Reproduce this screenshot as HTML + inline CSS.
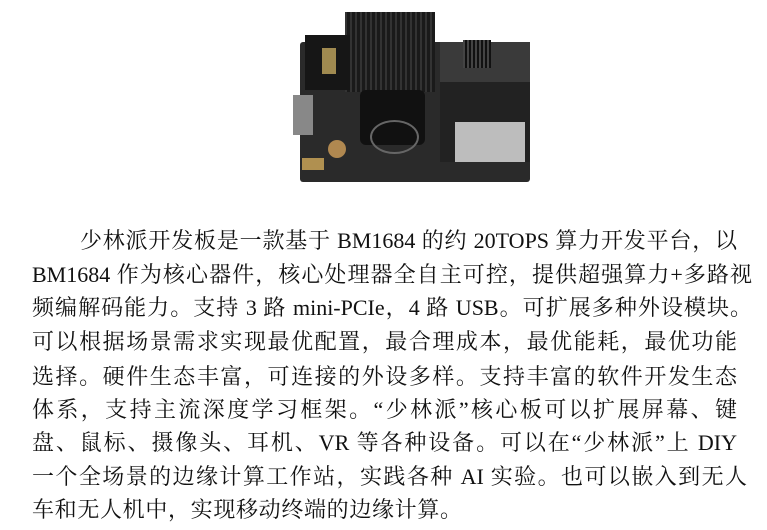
<!DOCTYPE html>
<html><head><meta charset="utf-8">
<style>
html,body{margin:0;padding:0;background:#fff;}
body{width:767px;height:530px;position:relative;overflow:hidden;}
.l{position:absolute;font-family:"Liberation Serif","Noto Serif CJK SC",serif;font-size:22px;color:#111;white-space:nowrap;text-align:justify;text-align-last:justify;line-height:30px;height:30px;}
.b{position:absolute;}
</style></head><body>
<div class="b" style="left:300px;top:42px;width:230px;height:140px;background:#2a2a2a;border-radius:3px;"></div>
<div class="b" style="left:345px;top:12px;width:90px;height:80px;background:#1c1c1c;background-image:repeating-linear-gradient(90deg,#333 0 2px,#1a1a1a 2px 5px);"></div>
<div class="b" style="left:305px;top:35px;width:45px;height:55px;background:#161616;"></div>
<div class="b" style="left:322px;top:48px;width:14px;height:26px;background:#a08a50;"></div>
<div class="b" style="left:440px;top:42px;width:90px;height:40px;background:#3a3a3a;"></div>
<div class="b" style="left:463px;top:40px;width:28px;height:28px;background:#111;background-image:repeating-linear-gradient(90deg,#444 0 2px,#111 2px 4px);"></div>
<div class="b" style="left:440px;top:82px;width:90px;height:80px;background:#222;"></div>
<div class="b" style="left:455px;top:122px;width:70px;height:40px;background:#bdbdbd;"></div>
<div class="b" style="left:360px;top:90px;width:65px;height:55px;background:#111;border-radius:6px;"></div>
<div class="b" style="left:370px;top:120px;width:45px;height:30px;border:2px solid #666;border-radius:50%;"></div>
<div class="b" style="left:293px;top:95px;width:20px;height:40px;background:#888;"></div>
<div class="b" style="left:328px;top:140px;width:18px;height:18px;background:#b08850;border-radius:50%;"></div>
<div class="b" style="left:302px;top:158px;width:22px;height:12px;background:#b09050;"></div>

<div class="l" style="left:80px;top:226px;width:657px;">少林派开发板是一款基于 BM1684 的约 20TOPS 算力开发平台，以</div>
<div class="l" style="left:32px;top:260px;width:720px;">BM1684 作为核心器件，核心处理器全自主可控，提供超强算力+多路视</div>
<div class="l" style="left:32px;top:293px;width:720px;">频编解码能力。支持 3 路 mini-PCIe，4 路 USB。可扩展多种外设模块。</div>
<div class="l" style="left:32px;top:327px;width:705px;">可以根据场景需求实现最优配置，最合理成本，最优能耗，最优功能</div>
<div class="l" style="left:32px;top:362px;width:705px;">选择。硬件生态丰富，可连接的外设多样。支持丰富的软件开发生态</div>
<div class="l" style="left:32px;top:395px;width:705px;">体系，支持主流深度学习框架。“少林派”核心板可以扩展屏幕、键</div>
<div class="l" style="left:32px;top:428px;width:705px;">盘、鼠标、摄像头、耳机、VR 等各种设备。可以在“少林派”上 DIY</div>
<div class="l" style="left:32px;top:462px;width:715px;">一个全场景的边缘计算工作站，实践各种 AI 实验。也可以嵌入到无人</div>
<div class="l" style="left:32px;top:495px;width:430px;">车和无人机中，实现移动终端的边缘计算。</div>
</body></html>
